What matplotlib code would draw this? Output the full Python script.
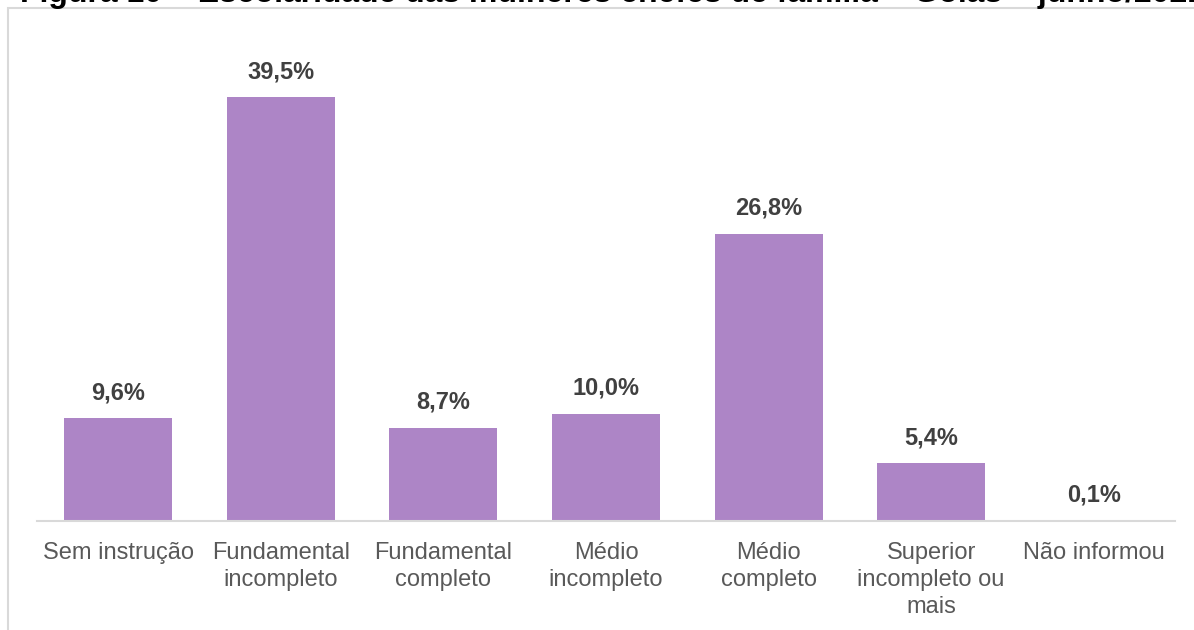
import matplotlib.pyplot as plt
from matplotlib.patches import Rectangle

categorias = [
    "Sem instrução",
    "Fundamental\nincompleto",
    "Fundamental\ncompleto",
    "Médio\nincompleto",
    "Médio\ncompleto",
    "Superior\nincompleto ou\nmais",
    "Não informou",
]
percentuais = [9.6, 39.5, 8.7, 10.0, 26.8, 5.4, 0.1]

TITULO = "Figura 10 – Escolaridade das mulheres chefes de família – Goiás – junho/2021"

plt.rcParams["font.family"] = ["Liberation Sans", "DejaVu Sans"]

fig = plt.figure(figsize=(11.94, 6.3), dpi=100)
ax = fig.add_axes([37 / 1194, 109 / 630, 1138 / 1194, 472 / 630])

x = range(len(categorias))
bars = ax.bar(x, percentuais, width=0.664, color="#ad85c6")

for b, v in zip(bars, percentuais):
    ax.annotate(f"{v:.1f}".replace(".", ",") + "%",
                (b.get_x() + b.get_width() / 2, b.get_height()),
                xytext=(0, 10), textcoords="offset points",
                ha="center", va="bottom", fontsize=17, fontweight="bold",
                color="#404040")

ax.set_xlim(-0.5, len(categorias) - 0.5)
ax.set_ylim(0, 44)
ax.set_xticks(list(x))
ax.set_xticklabels(categorias, fontsize=17, color="#595959", linespacing=1.3)
ax.tick_params(axis="x", length=0, pad=15)
ax.set_yticks([])
for s in ["top", "right", "left"]:
    ax.spines[s].set_visible(False)
ax.spines["bottom"].set_color("#d9d9d9")
ax.spines["bottom"].set_linewidth(1.5)

# moldura do gráfico
fig.add_artist(Rectangle((8 / 1194, -0.1), 1.2, (622 / 630) + 0.1,
                         transform=fig.transFigure, fill=False,
                         edgecolor="#d9d9d9", linewidth=1.5))

fig.text(20 / 1194, 1 - 2 / 630, TITULO, fontsize=23, fontweight="bold",
         color="black", va="baseline", ha="left")

fig.savefig("out.png", dpi=100)
